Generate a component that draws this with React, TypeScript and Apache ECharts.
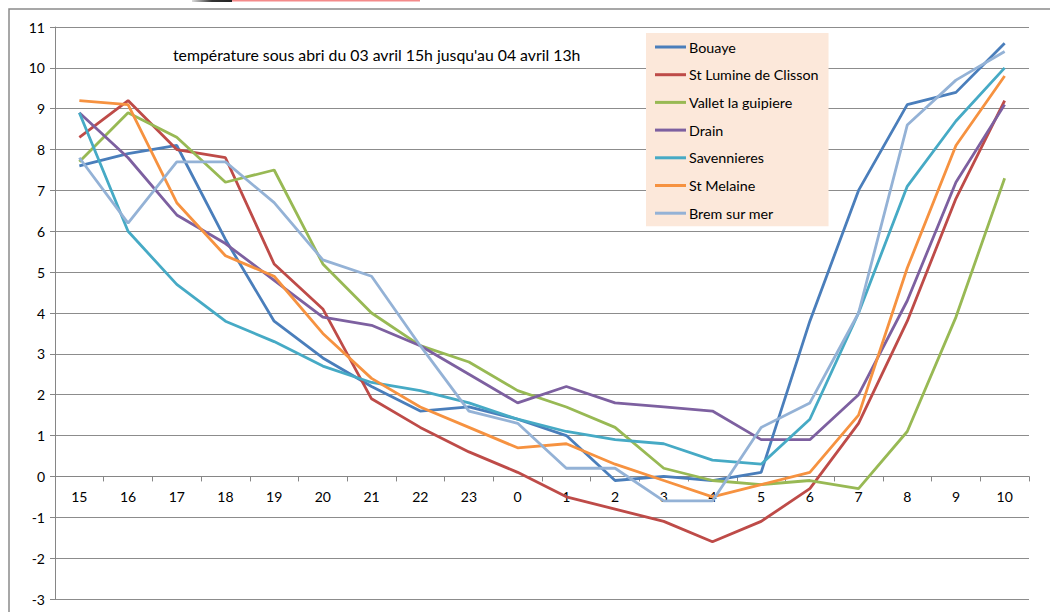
import React, { useEffect, useRef } from "react";
import * as echarts from "echarts";

const hours = ["15", "16", "17", "18", "19", "20", "21", "22", "23", "0", "1", "2", "3", "4", "5", "6", "7", "8", "9", "10"];

const bouaye = [7.6, 7.9, 8.1, 5.8, 3.8, 2.9, 2.2, 1.6, 1.7, 1.4, 1.0, -0.1, 0.0, -0.1, 0.1, 3.8, 7.0, 9.1, 9.4, 10.6];
const stLumine = [8.3, 9.2, 8.0, 7.8, 5.2, 4.1, 1.9, 1.2, 0.6, 0.1, -0.5, -0.8, -1.1, -1.6, -1.1, -0.3, 1.3, 3.8, 6.8, 9.2];
const vallet = [7.7, 8.9, 8.3, 7.2, 7.5, 5.2, 4.0, 3.2, 2.8, 2.1, 1.7, 1.2, 0.2, -0.1, -0.2, -0.1, -0.3, 1.1, 3.9, 7.3];
const drain = [8.9, 7.8, 6.4, 5.7, 4.8, 3.9, 3.7, 3.2, 2.5, 1.8, 2.2, 1.8, 1.7, 1.6, 0.9, 0.9, 2.0, 4.3, 7.2, 9.1];
const savennieres = [8.9, 6.0, 4.7, 3.8, 3.3, 2.7, 2.3, 2.1, 1.8, 1.4, 1.1, 0.9, 0.8, 0.4, 0.3, 1.4, 4.0, 7.1, 8.7, 10.0];
const stMelaine = [9.2, 9.1, 6.7, 5.4, 4.9, 3.5, 2.4, 1.7, 1.2, 0.7, 0.8, 0.3, -0.1, -0.5, -0.2, 0.1, 1.5, 5.1, 8.1, 9.8];
const brem = [7.8, 6.2, 7.7, 7.7, 6.7, 5.3, 4.9, 3.2, 1.6, 1.3, 0.2, 0.2, -0.6, -0.6, 1.2, 1.8, 4.0, 8.6, 9.7, 10.4];

const seriesNames = ["Bouaye", "St Lumine de Clisson", "Vallet la guipiere", "Drain", "Savennieres", "St Melaine", "Brem sur mer"];
const seriesData = [bouaye, stLumine, vallet, drain, savennieres, stMelaine, brem];
const colors = ["#4A7EBB", "#BE4B48", "#98B954", "#7D60A0", "#46AAC5", "#F69240", "#94B2D6"];

const titleText = "température sous abri du 03 avril 15h jusqu'au 04 avril 13h";

export default function App() {
  const ref = useRef<HTMLDivElement>(null);
  useEffect(() => {
    document.body.style.margin = "0";
    const chart = echarts.init(ref.current!, null, { renderer: "svg" });
    const font = "Lato, 'Open Sans', sans-serif";
    chart.setOption({
      animation: false,
      backgroundColor: "#ffffff",
      color: colors,
      textStyle: { fontFamily: font },
      title: {
        text: titleText,
        left: 168,
        top: 41,
        textStyle: { fontSize: 15.8, fontWeight: "normal", color: "#000", fontFamily: font },
      },
      grid: { left: 55, right: 21, top: 27, bottom: 13, containLabel: false, outerBoundsMode: "none" },
      legend: {
        orient: "vertical",
        left: 646,
        top: 33,
        width: 180,
        padding: [7, 10, 6, 9],
        backgroundColor: "#FCE8DA",
        itemWidth: 31,
        itemHeight: 3,
        itemGap: 13.7,
        icon: "rect",
        data: seriesNames,
        textStyle: { fontSize: 14.3, color: "#000", fontFamily: font, padding: [0, 0, 0, -2] },
      },
      xAxis: {
        type: "category",
        data: hours,
        boundaryGap: true,
        axisLine: { onZero: true, lineStyle: { color: "#868686", width: 1 } },
        axisTick: { show: true, length: 5, lineStyle: { color: "#868686" } },
        axisLabel: { color: "#000", fontSize: 14, margin: -110, fontFamily: font },
        splitLine: { show: false },
      },
      yAxis: {
        type: "value",
        min: -3,
        max: 11,
        interval: 1,
        axisLine: { show: true, lineStyle: { color: "#868686", width: 1 } },
        axisTick: { show: true, length: 5, lineStyle: { color: "#868686" } },
        axisLabel: { color: "#000", fontSize: 14, margin: 10, fontFamily: font },
        splitLine: { show: true, lineStyle: { color: "#8C8C8C", width: 1 } },
      },
      series: seriesNames.map((name, i) => ({
        name,
        type: "line",
        data: seriesData[i],
        symbol: "none",
        lineStyle: { width: 2.8, color: colors[i] },
        itemStyle: { color: colors[i] },
      })),
      graphic: [
        {
          type: "rect",
          shape: { x: 9, y: 9, width: 1200, height: 800 },
          style: { fill: "none", stroke: "#8A8A8A", lineWidth: 1.5 },
          silent: true,
        },
        {
          type: "rect",
          shape: { x: 232, y: 0, width: 188, height: 1.5 },
          style: { fill: "#F48A8A" },
          silent: true,
        },
        {
          type: "rect",
          shape: { x: 192, y: 0, width: 40, height: 2 },
          style: {
            fill: new echarts.graphic.LinearGradient(0, 0, 1, 0, [
              { offset: 0, color: "#DDDDDD" },
              { offset: 0.5, color: "#333333" },
              { offset: 1, color: "#222222" },
            ]),
          },
          silent: true,
        },
      ],
    });
    return () => chart.dispose();
  }, []);
  return <div ref={ref} style={{ width: 1050, height: 612 }} />;
}
